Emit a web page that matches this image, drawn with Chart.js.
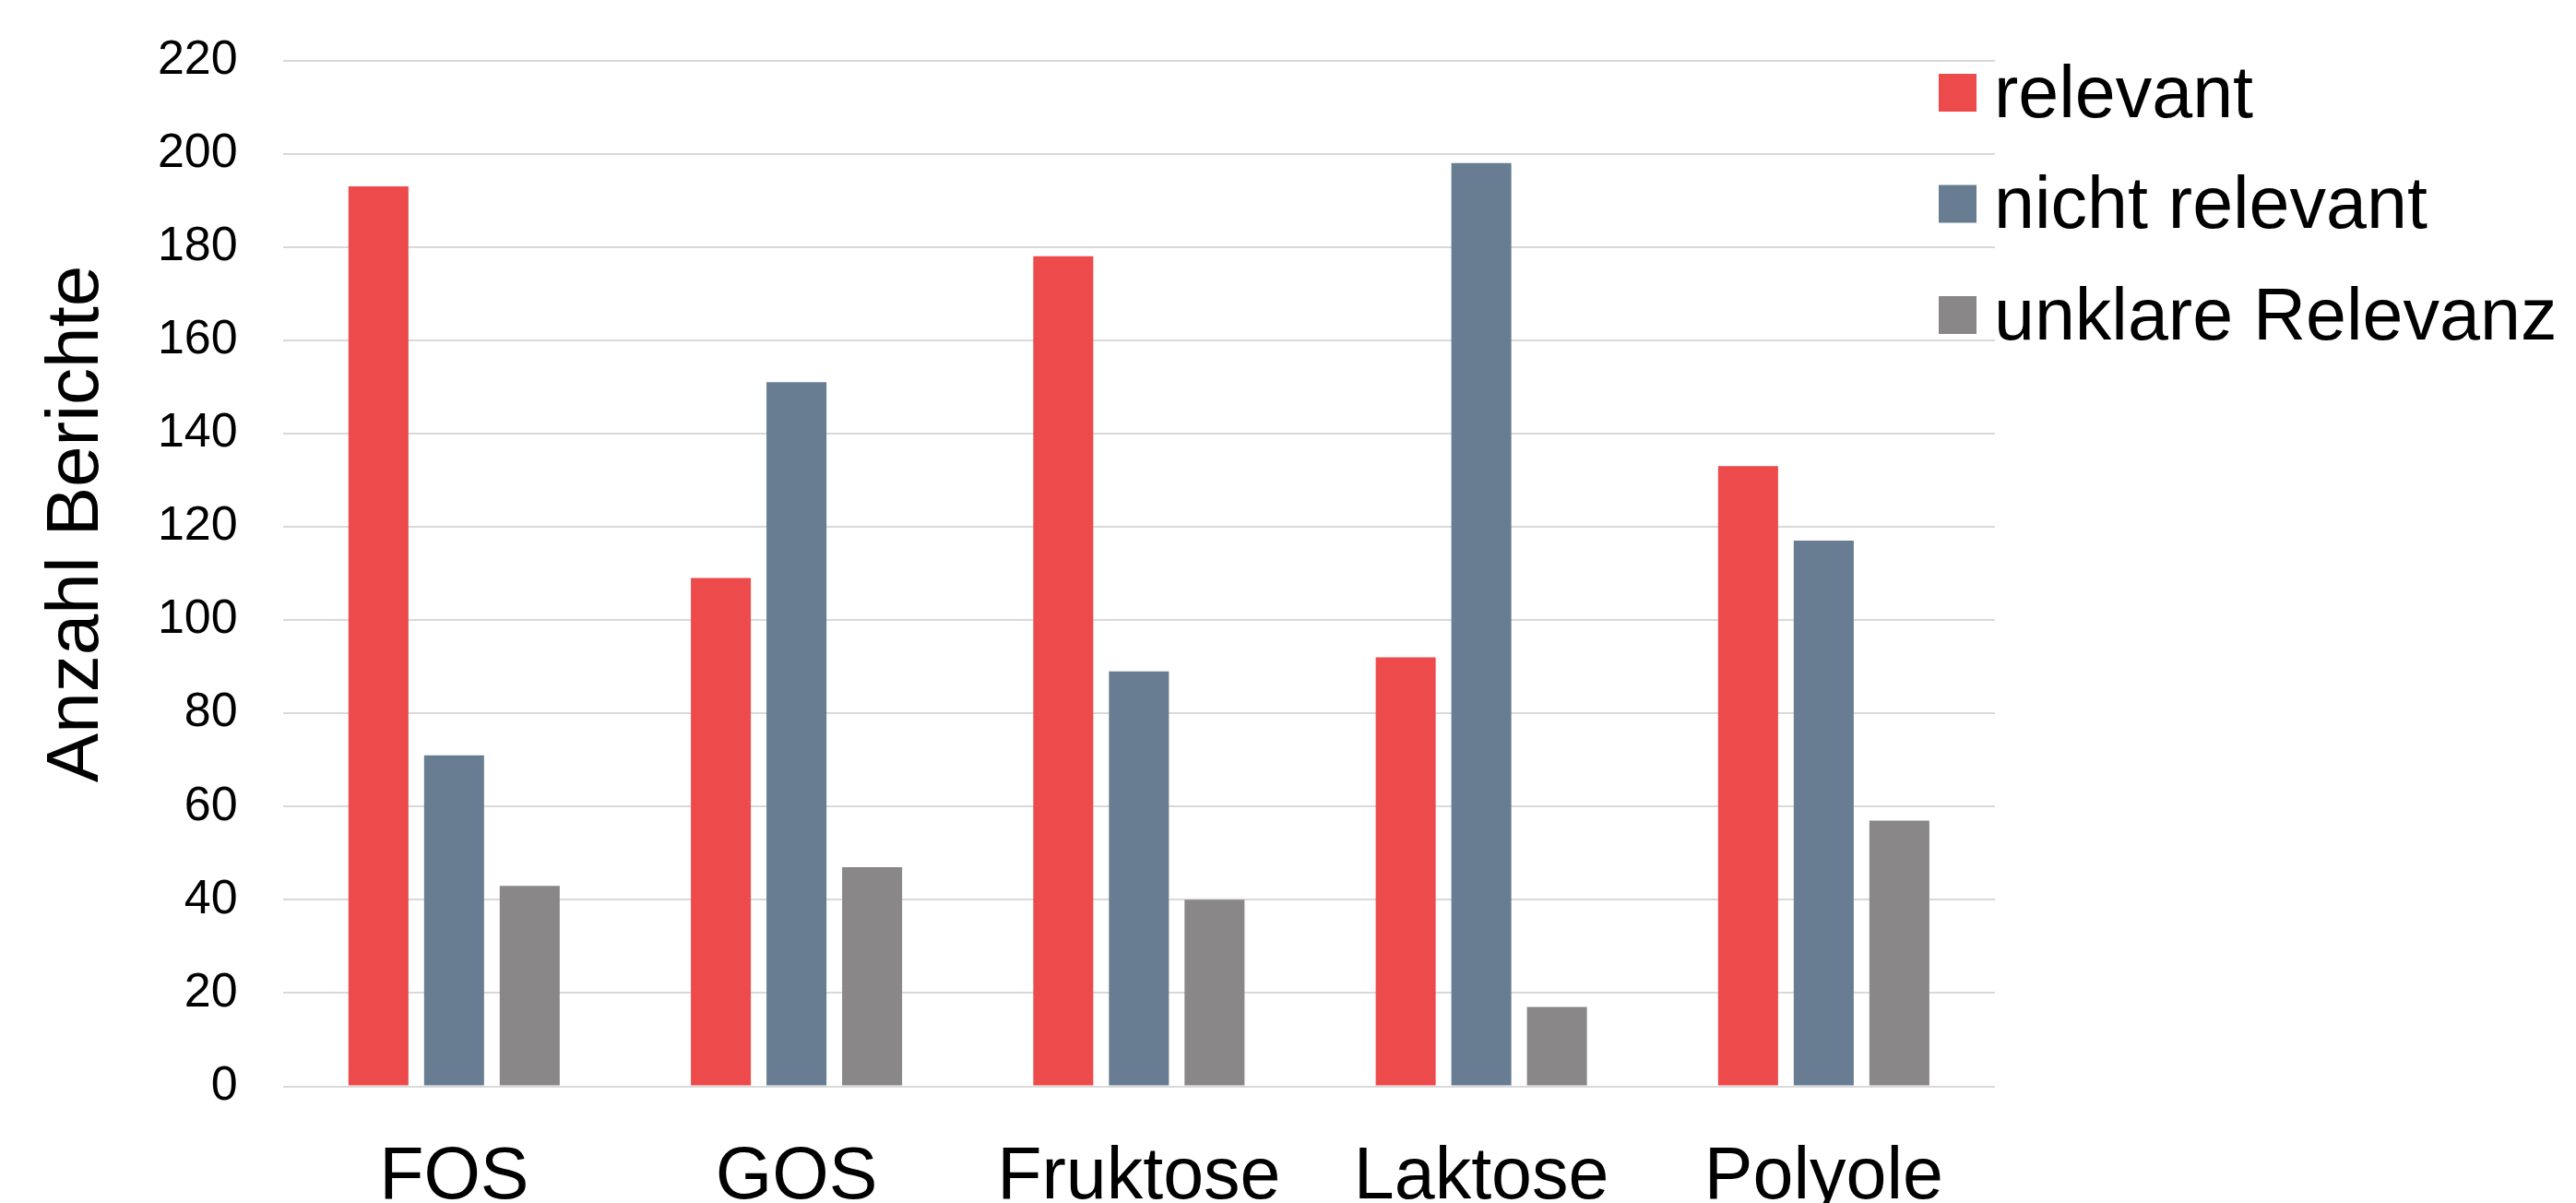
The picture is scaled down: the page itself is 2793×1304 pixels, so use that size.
<!DOCTYPE html>
<html>
<head>
<meta charset="utf-8">
<title>Anzahl Berichte</title>
<script src="https://cdn.jsdelivr.net/npm/chart.js@4.4.1/dist/chart.umd.min.js"></script>
<style>
  html, body { margin: 0; padding: 0; background: #ffffff; }
  #wrap { width: 2793px; height: 1304px; position: relative; }
  canvas { display: block; }
</style>
</head>
<body>
<div id="wrap"><canvas id="chart" width="2793" height="1304"></canvas></div>
<script>
// Kategorien und Werte
const categories = ['FOS', 'GOS', 'Fruktose', 'Laktose', 'Polyole'];
const relevant = [193, 109, 178, 92, 133];
const nichtRelevant = [71, 151, 89, 198, 117];
const unklareRelevanz = [43, 47, 40, 17, 57];
const seriesNames = ['relevant', 'nicht relevant', 'unklare Relevanz'];
const seriesColors = ['#ED4A4C', '#687D91', '#898788'];
const yTitle = 'Anzahl Berichte';
const yMin = 0;
const yMax = 220;
const yStep = 20;

const FONT = '"Liberation Sans", Arial, sans-serif';

// Achsentitel und Legende werden direkt auf die Zeichenfläche geschrieben
const sideText = {
  id: 'sideText',
  afterDraw(chart) {
    const ctx = chart.ctx;
    const area = chart.chartArea;
    ctx.save();
    ctx.fillStyle = '#000000';

    // y-Achsentitel, um 90° gedreht
    ctx.save();
    ctx.translate(106, 568);
    ctx.rotate(-Math.PI / 2);
    ctx.font = '80px ' + FONT;
    ctx.textAlign = 'center';
    ctx.textBaseline = 'alphabetic';
    ctx.fillText(yTitle, 0, 0);
    ctx.restore();

    // Legende rechts oben
    const boxX = area.right - 61;
    const boxSize = 41;
    const rowTop = 80;
    const rowGap = 120.5;
    ctx.font = '79px ' + FONT;
    ctx.textAlign = 'left';
    ctx.textBaseline = 'alphabetic';
    chart.data.datasets.forEach((ds, i) => {
      const top = rowTop + i * rowGap;
      ctx.fillStyle = ds.backgroundColor;
      ctx.fillRect(boxX, top, boxSize, boxSize);
      ctx.fillStyle = '#000000';
      ctx.fillText(ds.label, boxX + 60, top + boxSize / 2 + 26);
    });
    ctx.restore();
  }
};

const seriesValues = [relevant, nichtRelevant, unklareRelevanz];

new Chart(document.getElementById('chart'), {
  type: 'bar',
  data: {
    labels: categories,
    datasets: seriesValues.map((vals, i) => ({
      label: seriesNames[i],
      data: vals,
      backgroundColor: seriesColors[i],
      borderWidth: 0,
      categoryPercentage: 0.6626,
      barPercentage: 0.793
    }))
  },
  options: {
    responsive: false,
    animation: false,
    layout: { padding: { left: 0, right: 630, top: 65.5, bottom: 0 } },
    plugins: {
      legend: { display: false },
      tooltip: { enabled: false },
      title: { display: false }
    },
    scales: {
      x: {
        grid: { display: false },
        border: { display: false },
        ticks: {
          color: '#000000',
          font: { family: FONT, size: 79 },
          padding: 44,
          maxRotation: 0,
          autoSkip: false
        },
        afterFit(scale) { scale.height = 126.5; }
      },
      y: {
        min: yMin,
        max: yMax,
        grid: { color: '#d9d9d9', lineWidth: 2, drawTicks: false },
        border: { display: false },
        ticks: {
          stepSize: yStep,
          color: '#000000',
          font: { family: FONT, size: 52 },
          padding: 49
        },
        afterFit(scale) {
          scale.width = 306.7;
          // der Abstand der Beschriftung soll die Höhe der Zeichenfläche nicht verkleinern
          scale.paddingTop = 0;
          scale.paddingBottom = 0;
        }
      }
    }
  },
  plugins: [sideText]
});
</script>
</body>
</html>
